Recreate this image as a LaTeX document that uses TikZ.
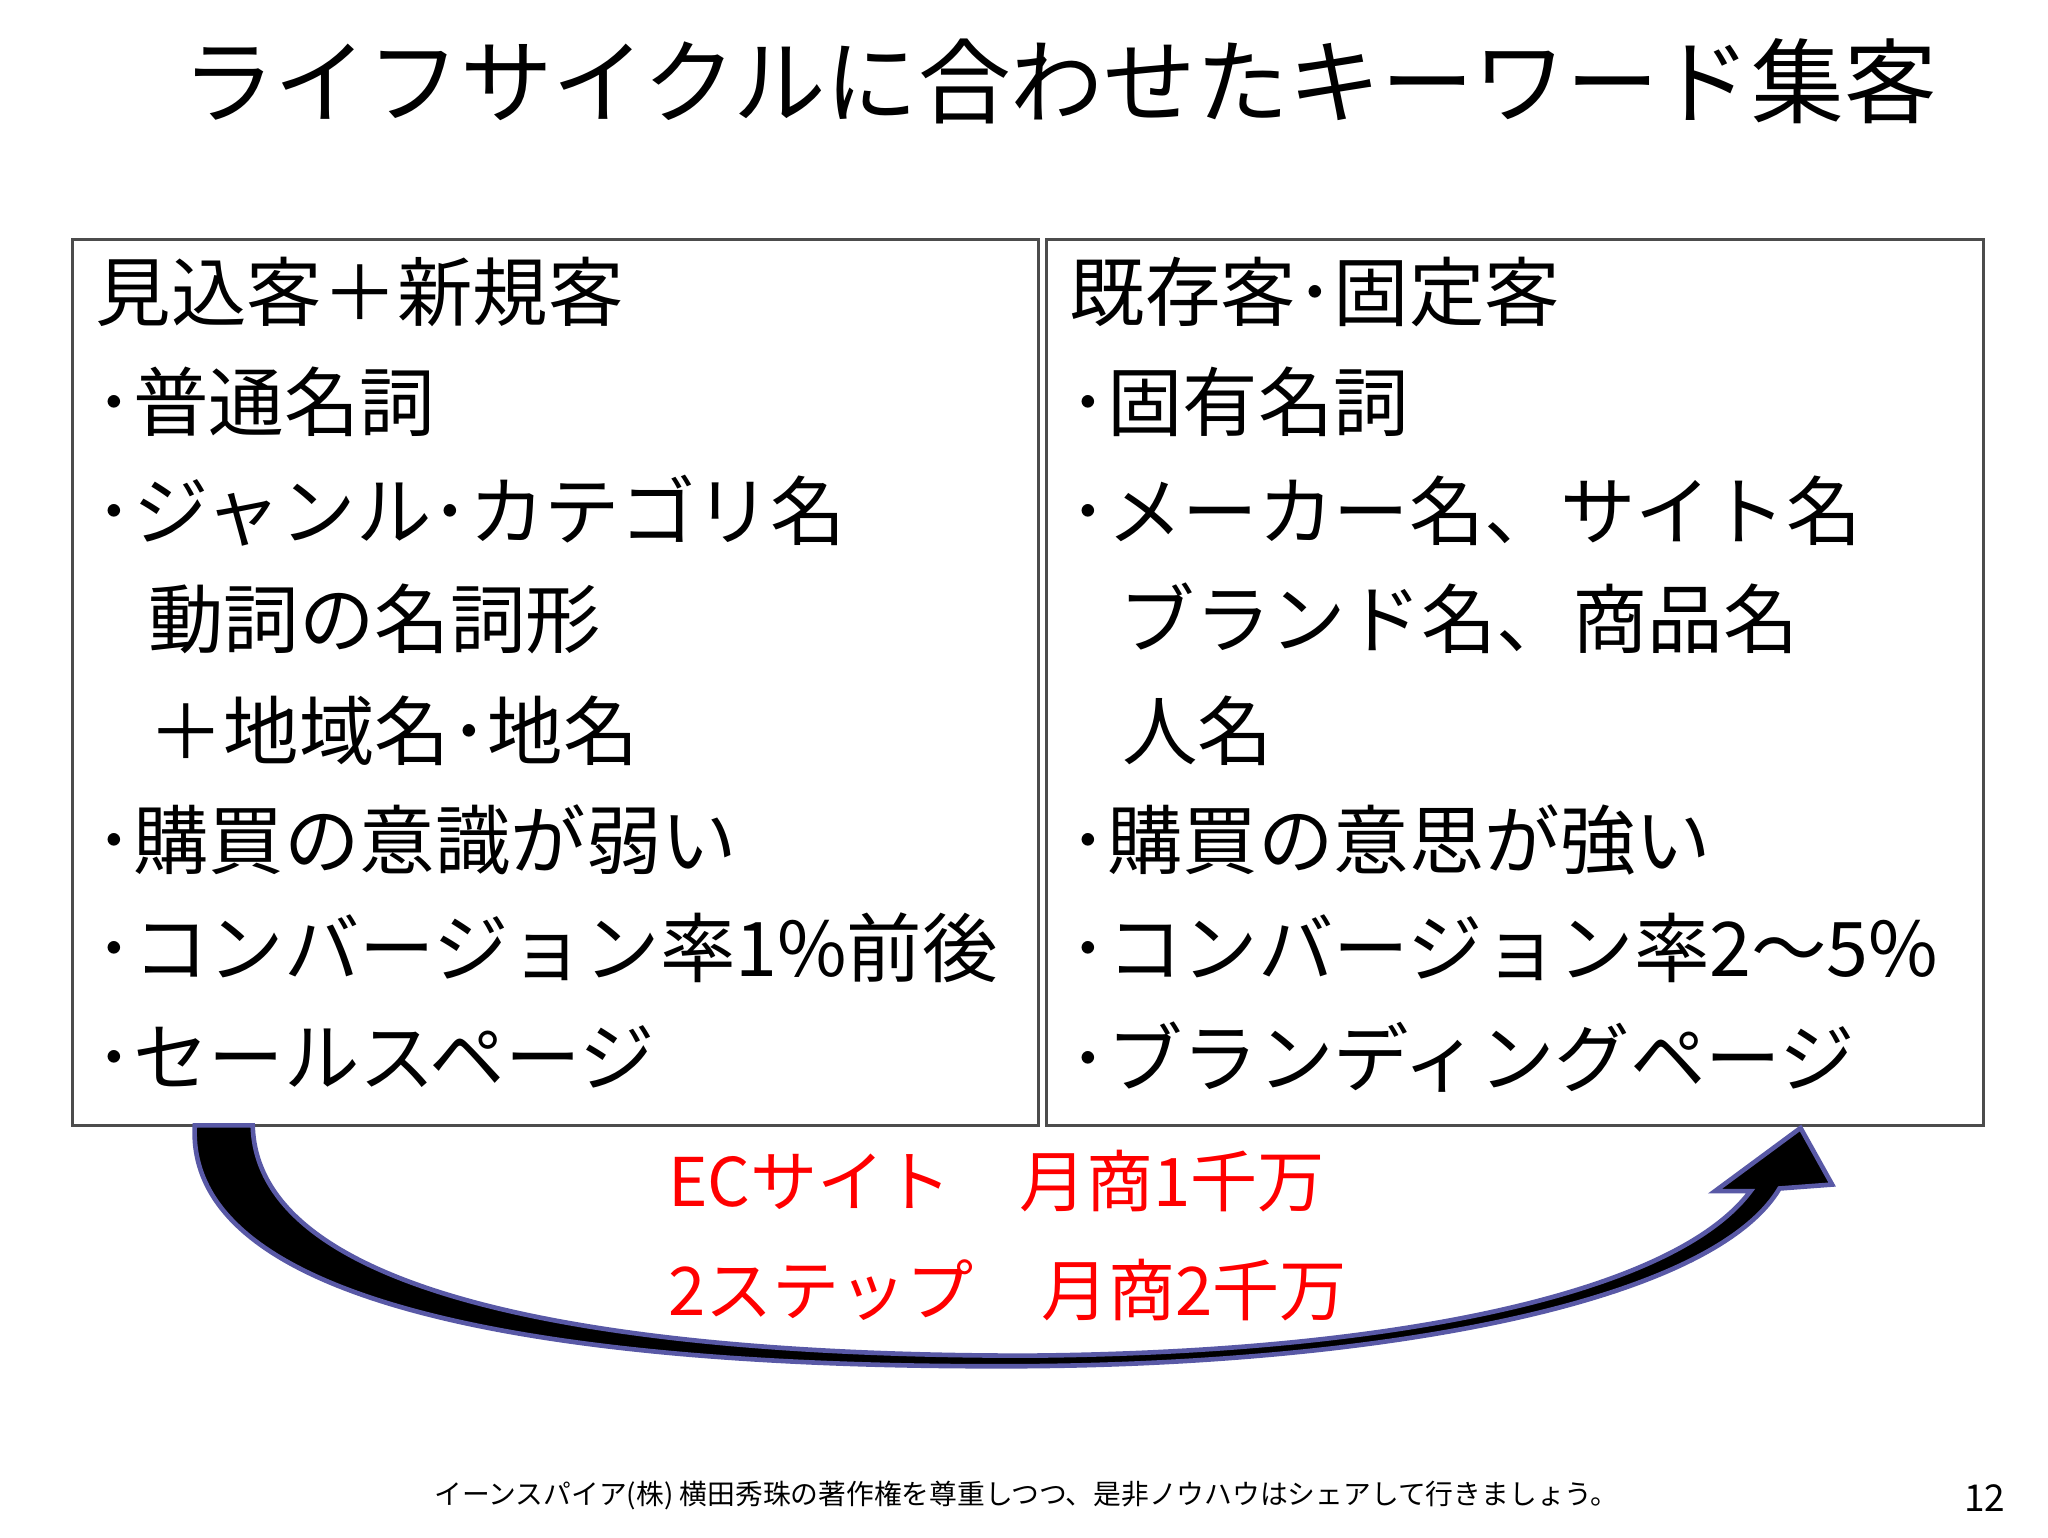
\documentclass[tikz,border=0pt]{standalone}
\usepackage{fontspec}
\setmainfont{Noto Sans CJK JP}
\begin{document}
\begin{tikzpicture}[x=0.01cm,y=-0.01cm,
  ln/.style={anchor=west,inner sep=0pt,font=\fontsize{16.3}{20}\selectfont},
  box/.style={draw=black!70,line width=0.6pt},
  red/.style={text=red,font=\fontsize{14.5}{19}\selectfont,inner sep=0pt}]
\useasboundingbox (0,0) rectangle (1556,1168);
\node[inner sep=0pt,font=\fontsize{20}{24}\selectfont] (title) at (805,62) {ライフサイクルに合わせたキーワード集客};
\draw[box] (55,182) rectangle (789,855);
\draw[box] (795,182) rectangle (1507,855);
\node[ln] (l1) at (72,222) {見込客＋新規客};
\node[ln] (l2) at (72,305) {･普通名詞};
\node[ln] (l3) at (72,388) {･ジャンル･カテゴリ名};
\node[ln] (l4) at (112,470) {動詞の名詞形};
\node[ln] (l5) at (112,555) {＋地域名･地名};
\node[ln] (l6) at (72,638) {･購買の意識が弱い};
\node[ln] (l7) at (72,720) {･コンバージョン率1\%前後};
\node[ln] (l8) at (72,803) {･セールスページ};
\node[ln] (r1) at (812,222) {既存客･固定客};
\node[ln] (r2) at (812,305) {･固有名詞};
\node[ln] (r3) at (812,388) {･メーカー名、サイト名};
\node[ln] (r4) at (850,470) {ブランド名、商品名};
\node[ln] (r5) at (852,555) {人名};
\node[ln] (r6) at (812,638) {･購買の意思が強い};
\node[ln] (r7) at (812,720) {･コンバージョン率2～5\%};
\node[ln] (r8) at (812,803) {･ブランディングページ};
\fill[black,draw=blue!30!gray,line width=1pt]
 (148,855) .. controls (140,1000) and (450,1040) .. (780,1038)
 .. controls (1050,1036) and (1300,990) .. (1352,903) -- (1392,900) -- (1368,857) -- (1303,905) -- (1330,905)
 .. controls (1270,985) and (1050,1028) .. (780,1030)
 .. controls (480,1030) and (195,990) .. (192,855) -- cycle;
\node[red,anchor=west] (e1) at (507,897) {ECサイト　月商1千万};
\node[red,anchor=west] (e2) at (507,980) {2ステップ　月商2千万};
\node[inner sep=0pt,font=\fontsize{6}{8}\selectfont] (foot) at (780,1136) {イーンスパイア(株) 横田秀珠の著作権を尊重しつつ、是非ノウハウはシェアして行きましょう。};
\node[inner sep=0pt,font=\fontsize{8}{9}\selectfont] (pg) at (1508,1138) {12};
\end{tikzpicture}
\end{document}
